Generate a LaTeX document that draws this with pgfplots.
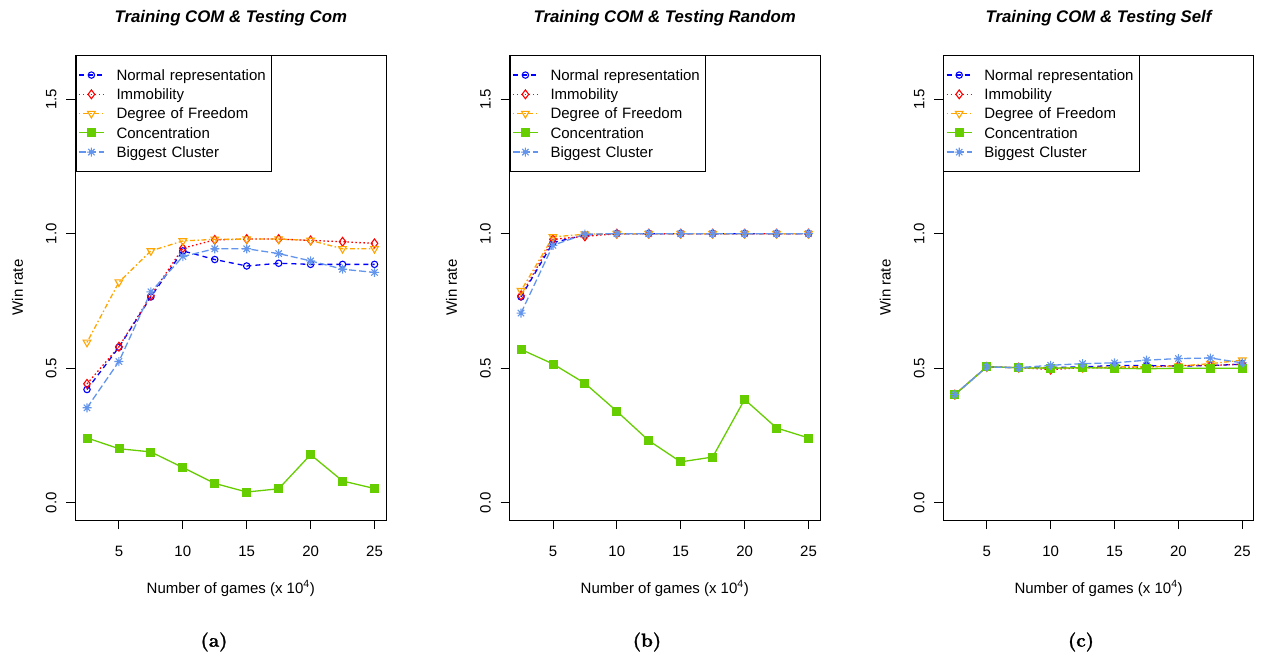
\documentclass[border=0pt]{standalone}
\usepackage{pgfplots}
\pgfplotsset{compat=1.18}
\usepackage{pgfplotstable}
\usepackage{fontspec}
\newfontfamily\arial{Liberation Sans}
\newfontfamily\lmbx{lmroman12-bold}[Extension=.otf, FakeBold=1.2]
\definecolor{rblue}{HTML}{0000FF}
\definecolor{rred}{HTML}{FF0000}
\definecolor{rorange}{HTML}{FFA500}
\definecolor{rgreen}{HTML}{66CD00}
\definecolor{rcorn}{HTML}{6495ED}
\pgfdeclareplotmark{rast}{%
 \pgfpathmoveto{\pgfqpoint{-\pgfplotmarksize}{0pt}}\pgfpathlineto{\pgfqpoint{\pgfplotmarksize}{0pt}}%
 \pgfpathmoveto{\pgfqpoint{0pt}{-\pgfplotmarksize}}\pgfpathlineto{\pgfqpoint{0pt}{\pgfplotmarksize}}%
 \pgfpathmoveto{\pgfqpoint{-.707\pgfplotmarksize}{-.707\pgfplotmarksize}}\pgfpathlineto{\pgfqpoint{.707\pgfplotmarksize}{.707\pgfplotmarksize}}%
 \pgfpathmoveto{\pgfqpoint{-.707\pgfplotmarksize}{.707\pgfplotmarksize}}\pgfpathlineto{\pgfqpoint{.707\pgfplotmarksize}{-.707\pgfplotmarksize}}%
 \pgfusepathqstroke}

\pgfplotstableread{
x N I D C B
2.5 0.421 0.442 0.596 0.241 0.353
5 0.578 0.580 0.820 0.201 0.525
7.5 0.765 0.770 0.936 0.189 0.784
10 0.936 0.946 0.973 0.131 0.915
12.5 0.904 0.977 0.979 0.072 0.944
15 0.880 0.980 0.980 0.040 0.944
17.5 0.890 0.980 0.980 0.052 0.926
20 0.886 0.975 0.975 0.179 0.899
22.5 0.886 0.970 0.944 0.081 0.868
25 0.886 0.964 0.944 0.053 0.856
}\tabA
\pgfplotstableread{
x N I D C B
2.5 0.765 0.770 0.788 0.570 0.705
5 0.967 0.979 0.988 0.516 0.957
7.5 0.995 0.990 0.998 0.444 0.998
10 1.000 1.000 1.000 0.340 1.000
12.5 1.000 1.000 1.000 0.231 1.000
15 1.000 1.000 1.000 0.152 1.000
17.5 1.000 1.000 1.000 0.170 1.000
20 1.000 1.000 1.000 0.384 1.000
22.5 1.000 1.000 1.000 0.278 1.000
25 1.000 1.000 1.000 0.241 1.000
}\tabB
\pgfplotstableread{
x N I D C B
2.5 0.402 0.402 0.402 0.402 0.402
5 0.505 0.505 0.505 0.505 0.505
7.5 0.502 0.502 0.502 0.502 0.502
10 0.503 0.495 0.500 0.500 0.511
12.5 0.505 0.502 0.502 0.502 0.517
15 0.510 0.502 0.505 0.500 0.520
17.5 0.510 0.505 0.505 0.498 0.530
20 0.508 0.510 0.508 0.500 0.536
22.5 0.510 0.510 0.517 0.500 0.538
25 0.515 0.515 0.530 0.500 0.520
}\tabC

\pgfplotsset{
 rstyle/.style={
  scale only axis, width=310.5pt, height=465pt, anchor=south west,
  xmin=1.6, xmax=25.9, ymin=-0.064, ymax=1.664,
  xtick={5,10,15,20,25}, xticklabels={5,10,15,20,25},
  ytick={0,0.5,1,1.5}, yticklabels={0.0,0.5,1.0,1.5},
  tick pos=left, tick align=outside, major tick length=9pt,
  every tick/.style={black, line width=0.9pt},
  axis line style={line width=0.9pt},
  ticklabel style={font=\arial\fontsize{15}{18}\selectfont},
  xticklabel style={anchor=base, yshift=-27pt, inner sep=0pt},
  yticklabel style={xshift=-10pt, rotate=90, anchor=base, inner sep=0pt},
  xlabel={Number of games (x 10\textsuperscript{4})},
  ylabel={Win rate},
  every axis x label/.style={at={(rel axis cs:0.5,0)}, yshift=-73pt, anchor=base, font=\arial\fontsize{15}{18}\selectfont},
  every axis y label/.style={at={(rel axis cs:0,0.5)}, xshift=-58pt, rotate=90, anchor=center, font=\arial\fontsize{15}{18}\selectfont},
  every axis title/.style={at={(rel axis cs:0.5,1)}, yshift=32pt, anchor=base, font=\arial\bfseries\itshape\fontsize{16.8}{20}\selectfont},
  legend style={at={(rel axis cs:0,1)}, anchor=north west, draw=black, line width=0.9pt, fill=white,
    inner xsep=2.3pt, inner ysep=10pt, font=\arial\fontsize{15}{18}\selectfont, row sep=0pt,
    nodes={inner xsep=0pt, inner ysep=2.5pt, text height=12.5pt, text depth=1.75pt, text width=153pt, align=left, anchor=west}},
  legend cell align=left,
  legend image code/.code={\draw[mark repeat=2,mark phase=2,##1] plot coordinates {(0pt,0pt) (12.5pt,0pt) (25pt,0pt)}; \path (0pt,0pt) (37pt,0pt);},
 },
 Nst/.style={color=rblue, line width=1.3pt, dash pattern=on 5pt off 4pt, mark=o, mark size=3.2pt, mark options={solid, line width=1.1pt}},
 Ist/.style={color=rred, line width=1.3pt, dash pattern=on 1.5pt off 2.5pt, mark=diamond, mark size=4.4pt, mark options={solid, line width=1.1pt}},
 Dst/.style={color=rorange, line width=1.3pt, dash pattern=on 1.5pt off 2.5pt on 5pt off 2.5pt, mark=triangle, mark size=4.4pt, mark options={solid, rotate=180, line width=1.1pt}},
 Cst/.style={color=rgreen, line width=1.3pt, solid, mark=square*, mark size=4pt, mark options={solid, line width=0.8pt, fill=rgreen, draw=rgreen}},
 Bst/.style={color=rcorn, line width=1.3pt, dash pattern=on 7pt off 3pt, mark=rast, mark size=4.5pt, mark options={solid, line width=1.1pt}},
}

\newcommand{\allplots}[1]{%
  \addplot[Nst] table[x=x,y=N] {#1};
  \addplot[Ist] table[x=x,y=I] {#1};
  \addplot[Dst] table[x=x,y=D] {#1};
  \addplot[Cst] table[x=x,y=C] {#1};
  \addplot[Bst] table[x=x,y=B] {#1};
  \legend{Normal representation, Immobility, Degree of Freedom, Concentration, Biggest Cluster}%
}

\begin{document}
\begin{tikzpicture}
\useasboundingbox (0,0) rectangle (1266pt,657pt);
\begin{axis}[rstyle, at={(75.5pt,137pt)}, title={Training COM \& Testing Com}]
\allplots{\tabA}
\end{axis}
\begin{axis}[rstyle, at={(509.5pt,137pt)}, title={Training COM \& Testing Random}]
\allplots{\tabB}
\end{axis}
\begin{axis}[rstyle, at={(943.3pt,137pt)}, title={Training COM \& Testing Self}]
\allplots{\tabC}
\end{axis}
\node[font=\lmbx\fontsize{19}{22}\selectfont] at (214pt,15pt) {(a)};
\node[font=\lmbx\fontsize{19}{22}\selectfont] at (647pt,15pt) {(b)};
\node[font=\lmbx\fontsize{19}{22}\selectfont] at (1081pt,15pt) {(c)};
\end{tikzpicture}
\end{document}
